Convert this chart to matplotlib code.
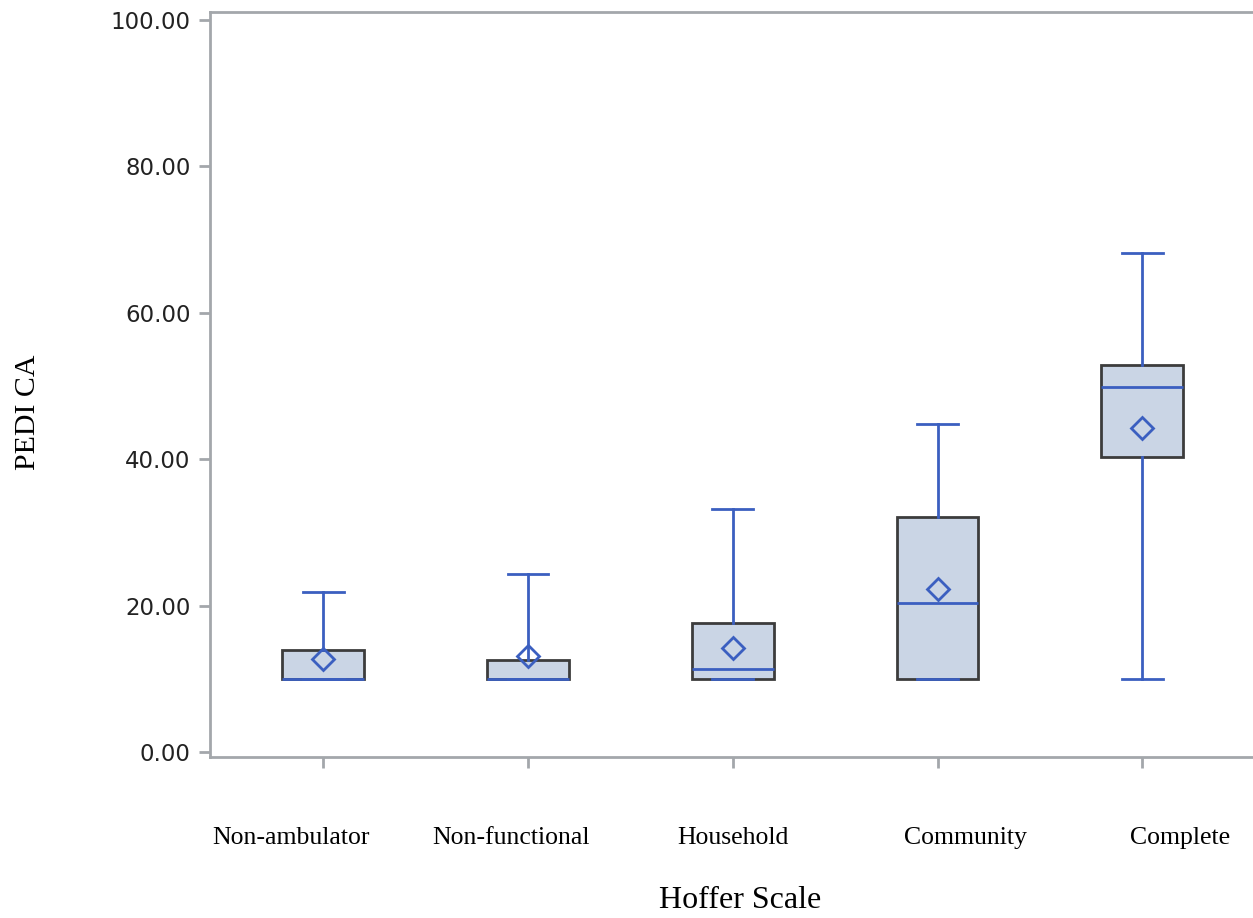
import matplotlib
matplotlib.use('Agg')
import matplotlib.pyplot as plt
import matplotlib.transforms as mtransforms

# Hoffer scale groups and PEDI CA summary stats
categories = ['Non-ambulator', 'Non-functional', 'Household', 'Community', 'Complete']
whisker_low = [10.0, 10.0, 10.0, 10.0, 10.0]
q1 = [10.0, 10.0, 10.0, 10.0, 40.3]
median = [10.0, 10.0, 11.3, 20.4, 49.9]
q3 = [13.9, 12.6, 17.6, 32.1, 52.9]
whisker_high = [21.9, 24.3, 33.2, 44.8, 68.2]
mean = [12.7, 13.1, 14.2, 22.3, 44.3]
yticks = [0, 20, 40, 60, 80, 100]

# label offsets (px) - labels in the original are not centred on ticks
label_shift = [-32, -17, 0, 28, 38]

BLUE = '#3b5fc0'
FILL = '#cad5e5'
EDGE = '#3c3c3c'
AXC = '#a3a7ab'

fig = plt.figure(figsize=(12.53, 9.18), dpi=100)
ax = fig.add_axes([210/1253, 1 - 757/918, 1 - 210/1253 + 0.002, (757 - 12)/918])

stats = []
for i in range(len(categories)):
    stats.append(dict(label=categories[i], whislo=whisker_low[i], q1=q1[i], med=median[i],
                      q3=q3[i], whishi=whisker_high[i], mean=mean[i], fliers=[]))

pos = list(range(len(categories)))
ax.bxp(stats, positions=pos, widths=0.4, showmeans=True, patch_artist=True,
       boxprops=dict(facecolor=FILL, edgecolor=EDGE, linewidth=2),
       medianprops=dict(color=BLUE, linewidth=2),
       whiskerprops=dict(color=BLUE, linewidth=2),
       capprops=dict(color=BLUE, linewidth=2),
       capwidths=0.2,
       meanprops=dict(marker='D', markersize=11, markerfacecolor='none',
                      markeredgecolor=BLUE, markeredgewidth=2),
       zorder=3)

ax.set_xlim(-0.553, 4.553)
ax.set_ylim(-0.68, 101.09)
ax.set_yticks(yticks)
ax.set_yticklabels(['%.2f' % v for v in yticks], fontsize=16.5, color='#222222')
ax.set_xticks(pos)
ax.set_xticklabels([])
ax.tick_params(axis='both', direction='out', length=8, width=2, color=AXC)
ax.tick_params(axis='y', pad=6)
for s in ['left', 'bottom', 'top']:
    ax.spines[s].set_color(AXC)
    ax.spines[s].set_linewidth(2)
ax.spines['right'].set_visible(False)

# category names sit well below the axis, at y=838px
for i, name in enumerate(categories):
    tr = mtransforms.offset_copy(ax.get_xaxis_transform(), fig=fig,
                                 x=label_shift[i], y=-(838 - 757), units='dots')
    ax.text(i, 0, name, transform=tr, ha='center', va='center',
            family='Liberation Serif', fontsize=18.5)

fig.text(740/1253, 1 - 900/918, 'Hoffer Scale', ha='center', va='center',
         family='Liberation Serif', fontsize=23)
fig.text(28/1253, 1 - 412/918, 'PEDI CA', ha='center', va='center', rotation=90,
         family='Liberation Serif', fontsize=21.5)

fig.savefig('out.png', dpi=100)
